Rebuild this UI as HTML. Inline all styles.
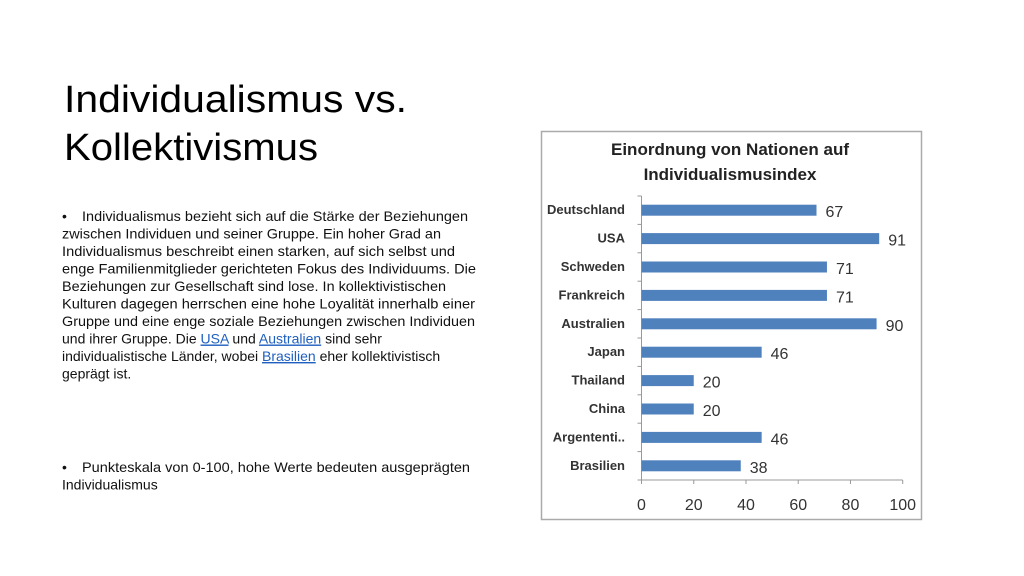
<!DOCTYPE html>
<html><head><meta charset="utf-8"><style>
html,body{margin:0;padding:0;background:#fff;}
svg{display:block;font-family:"Liberation Sans",sans-serif;}
</style></head><body>
<svg width="1024" height="576" viewBox="0 0 1024 576">
<g font-size="38" fill="#000">
<text x="64" y="112" textLength="343" lengthAdjust="spacingAndGlyphs">Individualismus vs.</text>
<text x="64" y="160" textLength="254" lengthAdjust="spacingAndGlyphs">Kollektivismus</text>
</g>
<g font-size="14" fill="#111">
<text x="62" y="221">•</text>
<text x="82" y="221" textLength="386" lengthAdjust="spacingAndGlyphs">Individualismus bezieht sich auf die Stärke der Beziehungen</text>
<text x="62" y="238.5" textLength="379" lengthAdjust="spacingAndGlyphs">zwischen Individuen und seiner Gruppe. Ein hoher Grad an</text>
<text x="62" y="256" textLength="393" lengthAdjust="spacingAndGlyphs">Individualismus beschreibt einen starken, auf sich selbst und</text>
<text x="62" y="273.5" textLength="414" lengthAdjust="spacingAndGlyphs">enge Familienmitglieder gerichteten Fokus des Individuums. Die</text>
<text x="62" y="291" textLength="384" lengthAdjust="spacingAndGlyphs">Beziehungen zur Gesellschaft sind lose. In kollektivistischen</text>
<text x="62" y="308.5" textLength="413" lengthAdjust="spacingAndGlyphs">Kulturen dagegen herrschen eine hohe Loyalität innerhalb einer</text>
<text x="62" y="326" textLength="413" lengthAdjust="spacingAndGlyphs">Gruppe und eine enge soziale Beziehungen zwischen Individuen</text>
<text x="62" y="343.5">
<tspan>und ihrer Gruppe. Die </tspan><tspan fill="#1f5fbf" text-decoration="underline">USA</tspan><tspan> und </tspan><tspan fill="#1f5fbf" text-decoration="underline">Australien</tspan><tspan> sind sehr</tspan></text>
<text x="62" y="361">
<tspan>individualistische Länder, wobei </tspan><tspan fill="#1f5fbf" text-decoration="underline">Brasilien</tspan><tspan> eher kollektivistisch</tspan></text>
<text x="62" y="378.5">geprägt ist.</text>
<text x="62" y="472">•</text>
<text x="82" y="472" textLength="388" lengthAdjust="spacingAndGlyphs">Punkteskala von 0-100, hohe Werte bedeuten ausgeprägten</text>
<text x="62" y="489.5">Individualismus</text>
</g>
<rect x="541.5" y="131.5" width="380" height="388" fill="#fff" stroke="#aaa" stroke-width="1.5"/>
<g font-size="17" font-weight="bold" fill="#222" text-anchor="middle">
<text x="730" y="155">Einordnung von Nationen auf</text>
<text x="730" y="180">Individualismusindex</text>
</g>
<g id="chart"></g>
</svg>
<script>
const categories = ["Deutschland","USA","Schweden","Frankreich","Australien","Japan","Thailand","China","Argententi..","Brasilien"];
const values = [67,91,71,71,90,46,20,20,46,38];
const ticks = [0,20,40,60,80,100];
const NS="http://www.w3.org/2000/svg";
const g=document.getElementById('chart');
const x0=641.5,x1=902.7,yTop=196,yBot=480;
function xs(v){return x0+(v-0)/(100-0)*(x1-x0);}
const band=(yBot-yTop)/categories.length;
function yc(i){return yTop+band*(i+0.5);}
function mk(tag,attrs){const e=document.createElementNS(NS,tag);for(const k in attrs)e.setAttribute(k,attrs[k]);g.appendChild(e);return e;}
let ax=mk('line',{x1:x0,y1:yTop,x2:x0,y2:yBot,stroke:'#999','stroke-width':1});


let bx=mk('line',{x1:x0,y1:yBot,x2:x1,y2:yBot,stroke:'#999','stroke-width':1});


ticks.forEach(t=>{
  let l=mk('line',{x1:xs(t),y1:yBot,x2:xs(t),y2:yBot+4,stroke:'#999'});
  
  
  let tx=mk('text',{x:xs(t),y:510,'text-anchor':'middle','font-size':16,fill:'#333'});
  tx.textContent=t;
  
  
});
for(let i=0;i<=categories.length;i++){
  let l=mk('line',{x1:x0-4,y1:yTop+band*i,x2:x0,y2:yTop+band*i,stroke:'#999'});
  
  
}
categories.forEach((c,i)=>{
  let r=mk('rect',{x:x0,y:yc(i)-5.5,width:xs(values[i])-x0,height:11,fill:'#4f81bd'});
  
  
  let lb=mk('text',{x:625,y:yc(i)+4,'text-anchor':'end','font-size':13,'font-weight':'bold',fill:'#333'});
  lb.textContent=c;
  
  
  let vl=mk('text',{x:xs(values[i])+9,y:yc(i)+7,'font-size':16,fill:'#333'});
  vl.textContent=values[i];
  
  
});
</script>
</body></html>
